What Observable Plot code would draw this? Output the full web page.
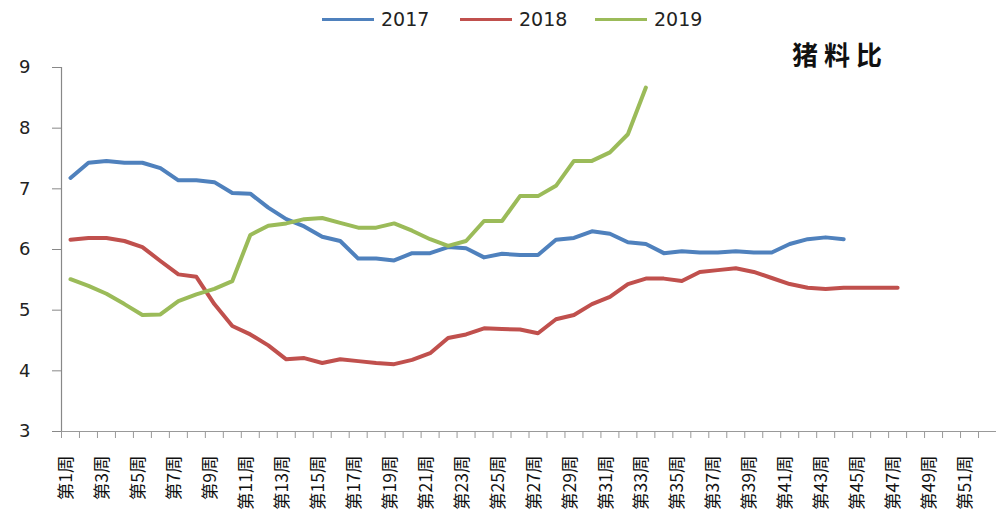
<!DOCTYPE html>
<html>
<head>
<meta charset="utf-8">
<script src="https://cdn.jsdelivr.net/npm/d3@7"></script>
<script src="https://cdn.jsdelivr.net/npm/@observablehq/plot@0.6"></script>
<style>
  html, body { margin: 0; padding: 0; background: #fff; }
  #wrap { position: relative; width: 996px; height: 520px; overflow: hidden; }
  .legend { position: absolute; top: 8px; left: 0; font-family: "DejaVu Sans", sans-serif; font-size: 19px; color: #222; }
  .legend .item { position: absolute; white-space: nowrap; display: flex; align-items: center; }
  .legend .sw { display: inline-block; width: 52px; height: 3px; margin-right: 7px; }
  .title { position: absolute; left: 792px; top: 35px; font-family: "Noto Sans CJK SC", sans-serif; font-weight: bold; font-size: 26px; letter-spacing: 6px; color: #111; }
</style>
</head>
<body>
<div id="wrap">
  <div id="chart"></div>
  <div class="legend" id="legend"></div>
  <div class="title">猪料比</div>
</div>
<script>
const weekLabels = ["第1周","第2周","第3周","第4周","第5周","第6周","第7周","第8周","第9周","第10周",
  "第11周","第12周","第13周","第14周","第15周","第16周","第17周","第18周","第19周","第20周",
  "第21周","第22周","第23周","第24周","第25周","第26周","第27周","第28周","第29周","第30周",
  "第31周","第32周","第33周","第34周","第35周","第36周","第37周","第38周","第39周","第40周",
  "第41周","第42周","第43周","第44周","第45周","第46周","第47周","第48周","第49周","第50周",
  "第51周","第52周"];
const yTicks = [3, 4, 5, 6, 7, 8, 9];
const seriesNames = ["2017", "2018", "2019"];
const seriesColors = ["#4F81BD", "#C0504D", "#9BBB59"];
const s2017 = [7.18,7.43,7.46,7.43,7.43,7.34,7.14,7.14,7.11,6.93,
  6.92,6.69,6.5,6.38,6.21,6.14,5.85,5.85,5.82,5.94,
  5.94,6.04,6.02,5.87,5.93,5.91,5.91,6.16,6.19,6.3,
  6.26,6.12,6.09,5.94,5.97,5.95,5.95,5.97,5.95,5.95,
  6.09,6.17,6.2,6.17];
const s2018 = [6.16,6.19,6.19,6.14,6.04,5.81,5.59,5.55,5.1,4.74,
  4.6,4.42,4.19,4.21,4.13,4.19,4.16,4.13,4.11,4.18,
  4.29,4.54,4.6,4.7,4.69,4.68,4.62,4.85,4.92,5.1,
  5.22,5.43,5.52,5.52,5.48,5.63,5.66,5.69,5.63,5.53,
  5.43,5.37,5.35,5.37,5.37,5.37,5.37];
const s2019 = [5.51,5.4,5.27,5.1,4.92,4.93,5.15,5.26,5.35,5.48,
  6.24,6.39,6.43,6.5,6.52,6.44,6.36,6.36,6.43,6.31,
  6.17,6.06,6.14,6.47,6.47,6.88,6.88,7.05,7.46,7.46,
  7.6,7.9,8.67];

const allSeries = [s2017, s2018, s2019];
const rows = [];
allSeries.forEach((vals, si) => vals.forEach((v, i) => rows.push({week: i + 1, value: v, series: seriesNames[si]})));

const boundaries = weekLabels.map((_, i) => i + 0.5).concat([weekLabels.length + 0.5]);
const labelWeeks = weekLabels.map((_, i) => i + 1).filter(w => w % 2 === 1);

const chart = Plot.plot({
  width: 996,
  height: 520,
  marginLeft: 61,
  marginRight: 0,
  marginTop: 67,
  marginBottom: 89,
  style: {fontFamily: "DejaVu Sans, sans-serif", color: "#222", background: "#fff"},
  x: {domain: [0.5, weekLabels.length + 0.5], axis: null, label: null},
  y: {domain: [3, 9], axis: null, label: null},
  color: {domain: seriesNames, range: seriesColors},
  marks: [
    Plot.axisY({ticks: yTicks, label: null, tickSize: 9, tickPadding: 22, fontSize: 18, stroke: "#888", fill: "#222", tickFormat: d => String(d)}),
    Plot.axisX({ticks: boundaries, label: null, tickSize: 7, stroke: "#999", tickFormat: () => ""}),
    Plot.axisX({ticks: labelWeeks, label: null, tickSize: 0, tickPadding: 24, tickRotate: -90, fontSize: 17.5,
      fontFamily: "Noto Sans CJK SC, sans-serif", fill: "#111", dx: -4, tickFormat: w => weekLabels[w - 1]}),
    Plot.ruleX([0.5], {stroke: "#888", strokeWidth: 1.2}),
    Plot.ruleY([3], {stroke: "#999", strokeWidth: 1.2}),
    Plot.line(rows, {x: "week", y: "value", z: "series", stroke: "series", strokeWidth: 4, strokeLinejoin: "round", strokeLinecap: "round"})
  ]
});
document.getElementById("chart").appendChild(chart);

const legendPos = [322, 460, 595];
const legend = document.getElementById("legend");
seriesNames.forEach((name, i) => {
  const item = document.createElement("div");
  item.className = "item";
  item.style.left = legendPos[i] + "px";
  item.innerHTML = `<span class="sw" style="background:${seriesColors[i]}"></span><span>${name}</span>`;
  legend.appendChild(item);
});
</script>
</body>
</html>
